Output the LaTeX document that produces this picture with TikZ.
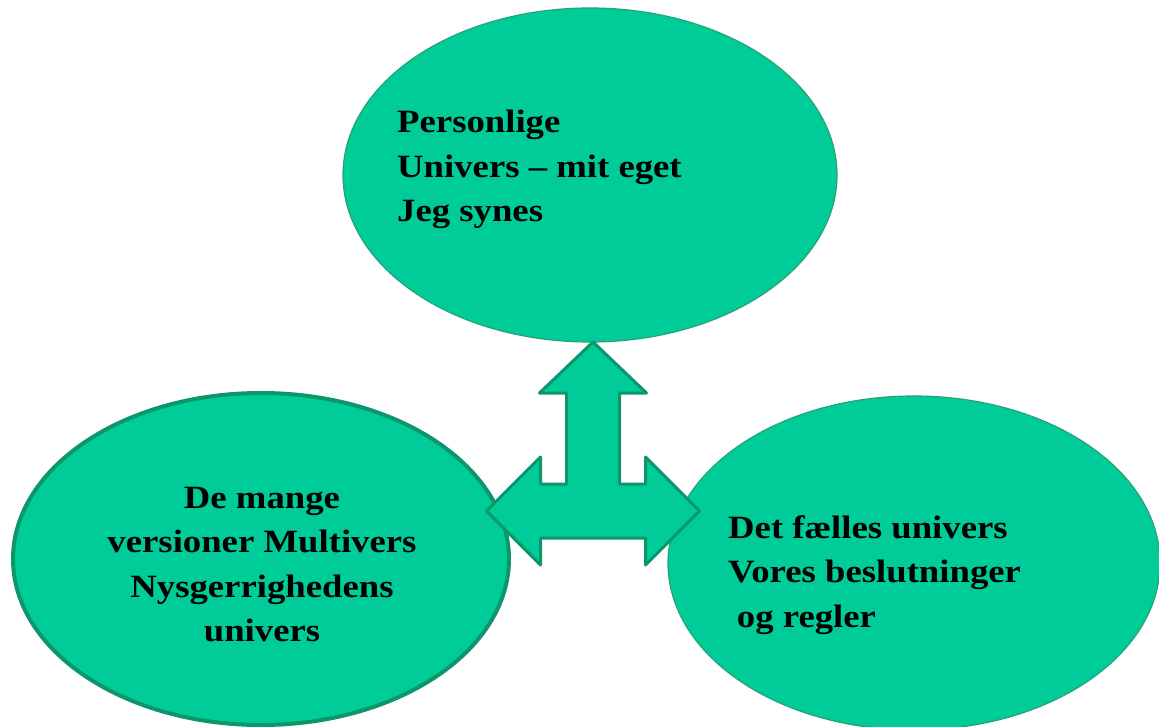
\documentclass[tikz,border=0pt]{standalone}
\usepackage{fontspec}
\setmainfont{Liberation Serif}[FakeStretch=1.13]
\usetikzlibrary{shapes.geometric}
\definecolor{leaf}{RGB}{0,204,153}
\definecolor{leafline}{RGB}{12,150,106}
\definecolor{leafthin}{RGB}{38,163,118}
\newcommand{\bubbletext}[2]{\parbox[t]{330pt}{#1\fontsize{32.5pt}{44.5pt}\selectfont\bfseries #2}}
\begin{document}
\begin{tikzpicture}[x=1pt,y=-1pt,
  universe/.style={ellipse, fill=leaf, draw=leafthin, line width=1.2pt,
    minimum width=494pt, minimum height=334pt, inner sep=0pt},
  heavy/.style={draw=leafline, line width=4pt},
  label/.style={inner sep=0pt, text=black},
  junction/.style={fill=leaf, draw=leafline, line width=3pt, line join=round}]
\useasboundingbox (0,0) rectangle (1159,727);
\clip (0,0) rectangle (1159,727);

% the three universes
\node[universe] (personal) at (590,175) {};
\node[universe, heavy, minimum width=496pt, minimum height=332pt] (multi) at (261,559) {};
\node[universe, minimum width=492pt] (shared) at (914,563) {};

% three-way arrow joining them
\draw[junction]
  (593,342) -- (646.5,393) -- (619.5,393) -- (619.5,484) -- (645.5,484)
  -- (645.5,457) -- (699.5,511) -- (645.5,565) -- (645.5,538)
  -- (540.5,538) -- (540.5,565) -- (486.5,511) -- (540.5,457)
  -- (540.5,484) -- (566.5,484) -- (566.5,393) -- (539.5,393) -- cycle;

% texts
\node[label, anchor=base west] (ptxt) at (397,133)
  {\bubbletext{\raggedright}{Personlige\\Univers – mit eget\\Jeg synes}};
\node[label, anchor=base] (mtxt) at (262,508)
  {\bubbletext{\centering}{De mange\\versioner Multivers\\Nysgerrighedens\\univers}};
\node[label, anchor=base west] (ftxt) at (728,538)
  {\bubbletext{\raggedright}{Det fælles univers\\Vores beslutninger\\\hspace*{0.27em}og regler}};
\end{tikzpicture}
\end{document}
